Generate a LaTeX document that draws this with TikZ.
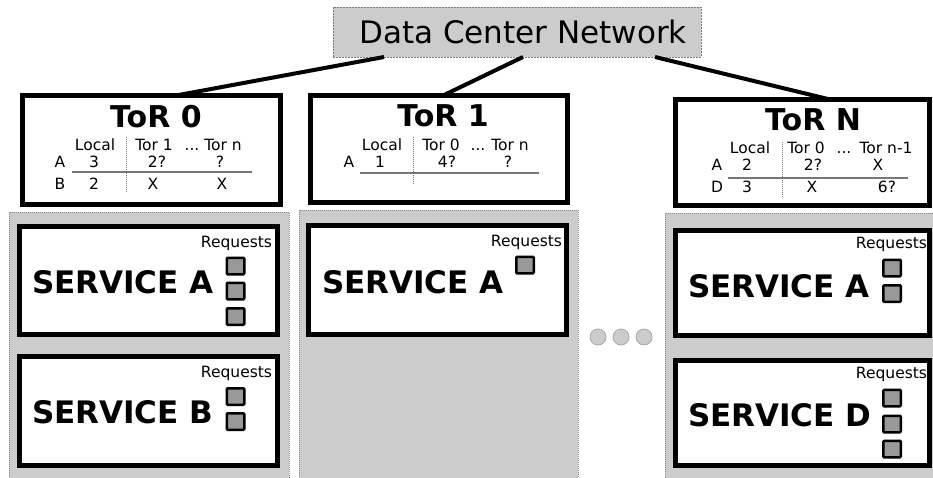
\documentclass[tikz,border=0pt]{standalone}
\usepackage{fontspec}
\setmainfont{DejaVu Sans}
\usetikzlibrary{calc}
\definecolor{panelgray}{HTML}{CCCCCC}
\definecolor{reqgray}{HTML}{999999}
\definecolor{rulegray}{HTML}{777777}
\definecolor{dotedge}{HTML}{A8A8A8}

\begin{document}
\begin{tikzpicture}[x=1pt,y=-1pt,
  every node/.style={inner sep=0pt, outer sep=0pt},
  netbox/.style={draw=black!50, fill=panelgray, line width=0.8pt, dash pattern=on 2pt off 1pt},
  rack/.style={draw=black!45, fill=panelgray, line width=0.8pt, dash pattern=on 1pt off 1pt},
  torbox/.style={draw=black, fill=white, line width=5pt},
  svcbox/.style={draw=black, fill=white, line width=5pt},
  reqsq/.style={draw=black, fill=reqgray, line width=2.5pt, rounded corners=1pt, minimum width=17.5pt, minimum height=16.5pt},
  morebox/.style={circle, draw=dotedge, fill=panelgray, line width=0.8pt, minimum size=16pt},
  uplink/.style={draw=black, line width=4pt},
  title/.style={font=\fontsize{30}{30}\selectfont\bfseries, anchor=base},
  svc/.style={font=\fontsize{31}{31}\selectfont\bfseries, anchor=base west},
  cell/.style={font=\fontsize{15.5}{16}\selectfont, anchor=base},
  req/.style={font=\fontsize{15.5}{16}\selectfont, anchor=base east},
  tabrule/.style={draw=rulegray, line width=1.5pt},
  tabsep/.style={draw=rulegray, line width=1pt, dash pattern=on 1pt off 1pt},
]
\useasboundingbox (0,0) rectangle (933,477);

% core network
\node[netbox, minimum width=368pt, minimum height=50pt] (dcn) at (517,32) {};
\node[font=\fontsize{31}{31}\selectfont, anchor=base] (dcnlabel) at (523,43) {Data Center Network};

% racks
\node[rack, minimum width=280pt, minimum height=266pt] (rack0) at (149,345) {};
\node[rack, minimum width=279pt, minimum height=268pt] (rack1) at (438.5,344) {};
\node[rack, minimum width=275pt, minimum height=266pt] (rackN) at (802.5,346) {};

% top-of-rack switches
\node[torbox, minimum width=258pt, minimum height=109pt] (tor0) at (151.5,150) {};
\node[torbox, minimum width=257pt, minimum height=107pt] (tor1) at (439,149) {};
\node[torbox, minimum width=254pt, minimum height=106pt] (torN) at (802.5,152.5) {};

% uplinks
\draw[uplink] ($(dcn.south west)+(51,0)$) -- ($(tor0.north west)+(153.5,0)$);
\draw[uplink] ($(dcn.south west)+(190,0)$) -- ($(tor1.north west)+(132.5,0)$);
\draw[uplink] ($(dcn.south west)+(322,0)$) -- ($(torN.north west)+(154.5,0)$);

% ToR 0 table
\node[title] (t0title) at (156,127) {ToR 0};
\node[cell] (t0local) at (95,150) {Local};
\node[cell] (t0h1) at (154,150) {Tor 1};
\node[cell] (t0h2) at (192,150) {...};
\node[cell] (t0h3) at (223,150) {Tor n};
\node[cell] (t0a) at (60,167) {A};
\node[cell] (t0a1) at (94,167) {3};
\node[cell] (t0a2) at (157,167) {2?};
\node[cell] (t0a3) at (220,167) {?};
\node[cell] (t0b) at (60,189) {B};
\node[cell] (t0b1) at (94,189) {2};
\node[cell] (t0b2) at (153,189) {X};
\node[cell] (t0b3) at (222,189) {X};
\coordinate (t0rl) at (72,172);
\coordinate (t0rr) at (252,172);
\coordinate (t0st) at (126,137);
\coordinate (t0sb) at (126,192);
\draw[tabrule] (t0rl) -- (t0rr);
\draw[tabsep] (t0st) -- (t0sb);

% ToR 1 table
\node[title] (t1title) at (443,126) {ToR 1};
\node[cell] (t1local) at (382,150) {Local};
\node[cell] (t1h1) at (441,150) {Tor 0};
\node[cell] (t1h2) at (478,150) {...};
\node[cell] (t1h3) at (510,150) {Tor n};
\node[cell] (t1a) at (349,167) {A};
\node[cell] (t1a1) at (380,167) {1};
\node[cell] (t1a2) at (447,167) {4?};
\node[cell] (t1a3) at (508,167) {?};
\coordinate (t1rl) at (360,173);
\coordinate (t1rr) at (539,173);
\coordinate (t1st) at (413,137);
\coordinate (t1sb) at (413,185);
\draw[tabrule] (t1rl) -- (t1rr);
\draw[tabsep] (t1st) -- (t1sb);

% ToR N table
\node[title] (tNtitle) at (813,130) {ToR N};
\node[cell] (tNlocal) at (750,153) {Local};
\node[cell] (tNh1) at (806,153) {Tor 0};
\node[cell] (tNh2) at (844,153) {...};
\node[cell] (tNh3) at (886,153) {Tor n-1};
\node[cell] (tNa) at (717,170) {A};
\node[cell] (tNa1) at (747,170) {2};
\node[cell] (tNa2) at (813,170) {2?};
\node[cell] (tNa3) at (878,170) {X};
\node[cell] (tNd) at (717,192) {D};
\node[cell] (tNd1) at (747,192) {3};
\node[cell] (tNd2) at (812,192) {X};
\node[cell] (tNd3) at (887,192) {6?};
\coordinate (tNrl) at (728,178);
\coordinate (tNrr) at (908,178);
\coordinate (tNst) at (782,142);
\coordinate (tNsb) at (782,197);
\draw[tabrule] (tNrl) -- (tNrr);
\draw[tabsep] (tNst) -- (tNsb);

% services in rack 0
\node[svcbox, minimum width=258pt, minimum height=108pt] (s0a) at (148.5,280.5) {};
\node[svc] (s0alabel) at (32,293) {SERVICE A};
\node[req] (s0areq) at (272,247) {Requests};
\node[reqsq] (s0aq1) at (235.5,266) {};
\node[reqsq] (s0aq2) at (235.5,291) {};
\node[reqsq] (s0aq3) at (235.5,316.5) {};

\node[svcbox, minimum width=258pt, minimum height=109pt] (s0b) at (148.5,411) {};
\node[svc] (s0blabel) at (32,423) {SERVICE B};
\node[req] (s0breq) at (272,377) {Requests};
\node[reqsq] (s0bq1) at (235.5,396.5) {};
\node[reqsq] (s0bq2) at (235.5,421.5) {};

% services in rack 1
\node[svcbox, minimum width=258pt, minimum height=109pt] (s1a) at (437.5,280) {};
\node[svc] (s1alabel) at (322,293) {SERVICE A};
\node[req] (s1areq) at (562,246) {Requests};
\node[reqsq] (s1aq1) at (525,265) {};

% services in rack N
\node[svcbox, minimum width=254pt, minimum height=105pt] (sNa) at (802.5,283) {};
\node[svc] (sNalabel) at (688,297) {SERVICE A};
\node[req] (sNareq) at (927,248) {Requests};
\node[reqsq] (sNaq1) at (892,268) {};
\node[reqsq] (sNaq2) at (892,293.5) {};

\node[svcbox, minimum width=254pt, minimum height=105pt] (sNd) at (802.5,413) {};
\node[svc] (sNdlabel) at (688,426) {SERVICE D};
\node[req] (sNdreq) at (927,378) {Requests};
\node[reqsq] (sNdq1) at (892,398) {};
\node[reqsq] (sNdq2) at (892,424) {};
\node[reqsq] (sNdq3) at (892,449) {};

% ellipsis between racks
\node[morebox] (more1) at (598,337) {};
\node[morebox] (more2) at (621,337) {};
\node[morebox] (more3) at (644,337) {};
\end{tikzpicture}
\end{document}
